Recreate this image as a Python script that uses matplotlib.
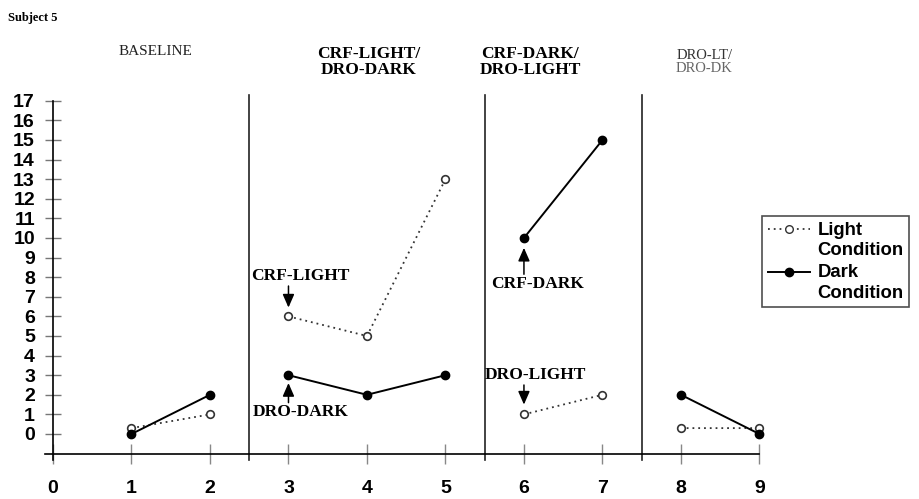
import numpy as np
import matplotlib
matplotlib.use("Agg")
import matplotlib.pyplot as plt
from matplotlib.lines import Line2D
from matplotlib.legend_handler import HandlerLine2D

# ---- data ----
sessions = [1, 2, 3, 4, 5, 6, 7, 8, 9]
light = [0.3, 1, 6, 5, 13, 1, 2, 0.3, 0.3]
dark = [0, 2, 3, 2, 3, 10, 15, 2, 0]
phase_groups = [[1, 2], [3, 4, 5], [6, 7], [8, 9]]
phase_lines = [2.5, 5.5, 7.5]
phase_labels = ["BASELINE", "CRF-LIGHT/\nDRO-DARK", "CRF-DARK/\nDRO-LIGHT", "DRO-LT/\nDRO-DK"]
x_ticks = list(range(0, 10))
y_ticks = list(range(0, 18))

SERIF = ["Liberation Serif", "DejaVu Serif"]
SANS = ["Liberation Sans", "DejaVu Sans"]

fig = plt.figure(figsize=(9.19, 4.99), dpi=100)
ax = fig.add_axes([0.0435, 0.0741, 0.7943, 0.7455])
ax.set_xlim(-0.166, 9.134)
ax.set_ylim(-1.43, 17.55)


def broken(values):
    xs, ys = [], []
    for g in phase_groups:
        for s in g:
            xs.append(s)
            ys.append(values[sessions.index(s)])
        xs.append(np.nan)
        ys.append(np.nan)
    return xs, ys


lx, ly = broken(light)
dx, dy = broken(dark)
ax.plot(lx, ly, linestyle=(0, (1, 2.2)), color="#333333", lw=1.3,
        marker="o", markersize=5.5, markerfacecolor="white",
        markeredgecolor="#333333", markeredgewidth=1.2, zorder=3)
ax.plot(dx, dy, linestyle="-", color="black", lw=1.4,
        marker="o", markersize=6, markerfacecolor="black",
        markeredgecolor="black", zorder=4)

# phase change lines
for p in phase_lines:
    ax.plot([p, p], [-1.35, 17.3], color="#222222", lw=1.2, clip_on=False)

# spines
for s in ["top", "right"]:
    ax.spines[s].set_visible(False)
ax.spines["left"].set_position(("data", 0))
ax.spines["left"].set_bounds(-1.35, 17)
ax.spines["bottom"].set_position(("data", -1))
ax.spines["bottom"].set_bounds(-0.1, 9)
ax.spines["left"].set_linewidth(1.2)
ax.spines["bottom"].set_linewidth(1.2)

ax.set_yticks(y_ticks)
ax.set_yticklabels([str(v) for v in y_ticks], fontfamily=SANS,
                   fontweight="bold", fontsize=14)
ax.set_xticks(x_ticks)
ax.set_xticklabels([str(v) for v in x_ticks], fontfamily=SANS,
                   fontweight="bold", fontsize=14)
ax.tick_params(axis="y", direction="inout", length=12, width=1,
               color="#777777", pad=7)
ax.tick_params(axis="x", direction="inout", length=14, width=1,
               color="#888888", pad=12)

# phase labels
ax.text(1.3, 19.5, phase_labels[0], fontfamily=SERIF, fontsize=11,
        ha="center", va="center", color="#222222", clip_on=False)
ax.text(4.02, 19.0, phase_labels[1], fontfamily=SERIF, fontsize=12.5,
        fontweight="bold", ha="center", va="center", linespacing=1.0,
        clip_on=False)
ax.text(6.08, 19.0, phase_labels[2], fontfamily=SERIF, fontsize=12.5,
        fontweight="bold", ha="center", va="center", linespacing=1.0,
        clip_on=False)
ax.text(8.3, 19.0, "DRO-LT/", fontfamily=SERIF, fontsize=10.5,
        ha="center", va="bottom", color="#333333", clip_on=False)
ax.text(8.3, 19.0, "DRO-DK", fontfamily=SERIF, fontsize=10.5,
        ha="center", va="top", color="#666666", clip_on=False)

# annotations
ann_kw = dict(fontfamily=SERIF, fontsize=12.5, fontweight="bold",
              ha="center", va="center")
arrow_kw = dict(arrowstyle="-|>,head_length=0.8,head_width=0.35",
                color="black", lw=1.1, shrinkA=0, shrinkB=0)
ax.text(3.15, 8.06, "CRF-LIGHT", **ann_kw)
ax.annotate("", xy=(3, 6.45), xytext=(3, 7.55), arrowprops=arrow_kw)
ax.text(3.15, 1.12, "DRO-DARK", **ann_kw)
ax.annotate("", xy=(3, 2.6), xytext=(3, 1.6), arrowprops=arrow_kw)
ax.text(6.17, 7.65, "CRF-DARK", **ann_kw)
ax.annotate("", xy=(6, 9.5), xytext=(6, 8.15), arrowprops=arrow_kw)
ax.text(6.14, 3.0, "DRO-LIGHT", **ann_kw)
ax.annotate("", xy=(6, 1.5), xytext=(6, 2.5), arrowprops=arrow_kw)

# subject title
fig.text(8 / 919, 1 - 18 / 499, "Subject 5", fontfamily=SERIF, fontsize=9,
         fontweight="bold", ha="left", va="center")


# legend: handle aligned with the first text line
class FirstLineHandler(HandlerLine2D):
    def create_artists(self, legend, orig_handle, xdescent, ydescent,
                       width, height, fontsize, trans):
        return super().create_artists(legend, orig_handle, xdescent,
                                      ydescent - 1.2 * fontsize, width,
                                      height, fontsize, trans)


handles = [
    Line2D([], [], linestyle=(0, (1, 2.2)), color="#333333", lw=1.3,
           marker="o", markersize=5.5, markerfacecolor="white",
           markeredgecolor="#333333"),
    Line2D([], [], linestyle="-", color="black", lw=1.4, marker="o",
           markersize=6, markerfacecolor="black"),
]
hm = {h: FirstLineHandler() for h in handles}
leg = fig.legend(handles, ["Light\nCondition", "Dark\nCondition"],
                 loc="upper left", bbox_to_anchor=(762 / 919, 1 - 216 / 499),
                 prop=dict(family=SANS, weight="bold", size=13.3),
                 frameon=True, fancybox=False, shadow=False,
                 handlelength=2.3, handletextpad=0.4, labelspacing=0.3,
                 borderpad=0.3, borderaxespad=0.0, handler_map=hm)
for t in leg.get_texts():
    t.set_linespacing(1.25)
leg.get_frame().set_edgecolor("#222222")
leg.get_frame().set_linewidth(1.2)

fig.savefig("out.png", dpi=100)
